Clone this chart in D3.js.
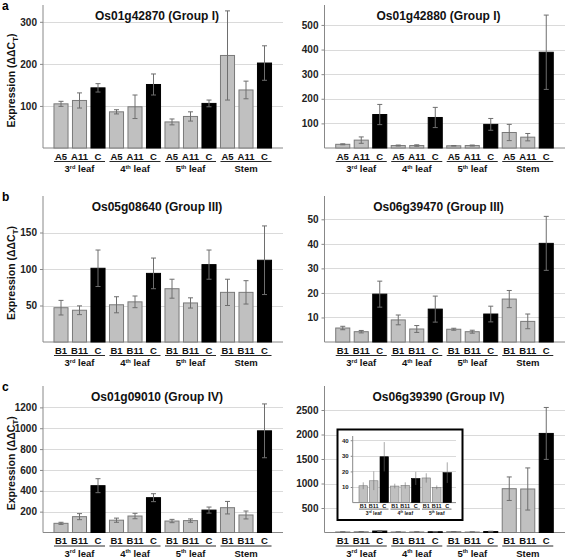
<!DOCTYPE html>
<html><head><meta charset="utf-8">
<script src="https://cdn.jsdelivr.net/npm/d3@7"></script>
<style>body{margin:0;background:#fff}svg{display:block}</style>
</head><body>
<svg id="chart" width="567" height="558"></svg>
<script>
// ---------- data ----------
const tissues = ["3rd leaf", "4th leaf", "5th leaf", "Stem"];
const linesA = ["A5", "A11", "C"];
const linesB = ["B1", "B11", "C"];

const titleA1 = "Os01g42870 (Group I)";
const valA1 = [105, 113, 143, 86, 98, 151, 62, 75, 106, 220, 138, 202];
const errA1 = [6, 18, 10, 5, 28, 25, 7, 11, 8, 106, 21, 41];
const ticksA1 = [100, 200, 300];

const titleA2 = "Os01g42880 (Group I)";
const valA2 = [15, 32, 136, 10, 10, 124, 9, 10, 96, 63, 44, 389];
const errA2 = [2, 13, 41, 2, 3, 41, 1, 2, 24, 33, 15, 151];
const ticksA2 = [100, 200, 300, 400, 500];

const titleB1 = "Os05g08640 (Group III)";
const valB1 = [47, 43.5, 101, 51, 55, 94, 73, 53.5, 106, 68, 68, 112];
const errB1 = [10, 6, 25, 11, 8, 21, 13, 7, 20, 18, 16, 47];
const ticksB1 = [50, 100, 150];

const titleB2 = "Os06g39470 (Group III)";
const valB2 = [5.7, 4.2, 19.5, 9, 5.3, 13.4, 5.2, 4.2, 11.4, 17.5, 8.4, 40.2];
const errB2 = [0.7, 0.5, 5.3, 2, 1.4, 5.3, 0.4, 0.6, 3.2, 3.5, 3, 11];
const ticksB2 = [10, 20, 30, 40, 50];

const titleC1 = "Os01g09010 (Group IV)";
const valC1 = [88, 152, 449, 118, 158, 334, 110, 114, 215, 238, 168, 975];
const errC1 = [10, 29, 67, 20, 26, 38, 16, 16, 29, 60, 38, 258];
const ticksC1 = [200, 400, 600, 800, 1000, 1200];

const titleC2 = "Os06g39390 (Group IV)";
const valC2 = [10.8, 14, 29.4, 10.6, 11, 15.5, 15.8, 9.8, 19.2, 894, 888, 2022];
const errC2 = [2.2, 6, 9.4, 1.5, 2, 4.2, 3, 1.2, 6.6, 240, 430, 530];
const ticksC2 = [500, 1000, 1500, 2000, 2500];

// inset of Os06g39390 (leaves only)
const insetTissues = ["3rd leaf", "4th leaf", "5th leaf"];
const insetVal = valC2.slice(0, 9);
const insetErr = errC2.slice(0, 9);
const insetTicks = [10, 20, 30, 40];

// ---------- drawing ----------
const FONT = "'Liberation Sans', Arial, Helvetica, sans-serif";
const svg = d3.select("#chart");
const GRAY = "#c0c0c0", GRAY_STROKE = "#7a7a7a", ERR = "#6e6e6e";

function tissueLabel(sel, t, fs) {
  const m = t.match(/^(\d)(st|nd|rd|th) (.*)$/);
  if (m) {
    sel.append("tspan").text(m[1]);
    sel.append("tspan").attr("font-size", fs * 0.6).attr("dy", -fs * 0.35).text(m[2]);
    sel.append("tspan").attr("dy", fs * 0.35).text(" " + m[3]);
  } else sel.text(t);
}

function drawPanel(o) {
  const g = svg.append("g");
  const y = d3.scaleLinear().domain([0, o.ymax]).range([o.bottom, o.top]);
  const n = o.values.length;
  const x = d3.scaleBand().domain(d3.range(n))
    .range([o.x0, o.x0 + n * o.step]).paddingInner(o.pad).paddingOuter(o.pad / 2);
  const bw = x.bandwidth();

  // background for inset
  if (o.box) {
    g.append("rect").attr("x", o.box[0]).attr("y", o.box[1])
      .attr("width", o.box[2]).attr("height", o.box[3])
      .attr("fill", "#fff").attr("stroke", "#000").attr("stroke-width", 2);
  }
  // gridlines
  g.append("g").selectAll("line").data(o.ticks).join("line")
    .attr("x1", o.axisX).attr("x2", o.right)
    .attr("y1", d => Math.round(y(d)) + 0.5).attr("y2", d => Math.round(y(d)) + 0.5)
    .attr("stroke", "#dadada").attr("stroke-width", 1);

  // y axis
  const ax = g.append("g").attr("transform", `translate(${o.axisX},0)`)
    .call(d3.axisLeft(y).tickValues(o.ticks).tickSize(o.tick).tickPadding(o.tickPad)
      .tickFormat(d3.format("d")));
  ax.select(".domain").remove();
  ax.selectAll(".tick line").attr("stroke", "#888");
  ax.selectAll("text").attr("font-family", FONT).attr("font-weight", "bold")
    .attr("font-size", o.tickFs).attr("fill", "#222");
  g.append("line").attr("x1", o.axisX).attr("x2", o.axisX)
    .attr("y1", o.top).attr("y2", o.bottom).attr("stroke", "#888");
  g.append("line").attr("x1", o.axisX).attr("x2", o.right)
    .attr("y1", o.bottom).attr("y2", o.bottom).attr("stroke", "#888");

  // bars
  g.append("g").selectAll("rect").data(o.values).join("rect")
    .attr("x", (d, i) => x(i)).attr("width", bw)
    .attr("y", d => y(d)).attr("height", d => o.bottom - y(d))
    .attr("fill", (d, i) => i % 3 === 2 ? "#000" : GRAY)
    .attr("stroke", (d, i) => i % 3 === 2 ? "#000" : GRAY_STROKE)
    .attr("stroke-width", o.barSw);

  // error bars
  const eg = g.append("g").attr("stroke", ERR).attr("stroke-width", o.errSw);
  o.values.forEach((v, i) => {
    const cx = x(i) + bw / 2, e = o.errs[i];
    const y1 = y(v + e), y2 = y(Math.max(0, v - e));
    eg.append("line").attr("x1", cx).attr("x2", cx).attr("y1", y1).attr("y2", y2);
    eg.append("line").attr("x1", cx - o.cap).attr("x2", cx + o.cap).attr("y1", y1).attr("y2", y1);
    eg.append("line").attr("x1", cx - o.cap).attr("x2", cx + o.cap).attr("y1", y2).attr("y2", y2);
  });

  // x labels
  const lg = g.append("g").attr("font-family", FONT).attr("font-weight", "bold")
    .attr("fill", "#111").attr("text-anchor", "middle");
  o.values.forEach((v, i) => {
    lg.append("text").attr("x", x(i) + bw / 2).attr("y", o.bottom + o.lblDy)
      .attr("font-size", o.lblFs).text(o.lines[i % 3]);
  });
  o.tissues.forEach((t, k) => {
    const xa = x(k * 3), xb = x(k * 3 + 2) + bw;
    lg.append("line").attr("x1", xa).attr("x2", xb)
      .attr("y1", o.bottom + o.ulDy).attr("y2", o.bottom + o.ulDy)
      .attr("stroke", "#111").attr("stroke-width", o.ulSw);
    const tx = lg.append("text").attr("x", (xa + xb) / 2).attr("y", o.bottom + o.grpDy)
      .attr("font-size", o.grpFs);
    tissueLabel(tx, t, o.grpFs);
  });

  // title
  if (o.title) {
    g.append("text").attr("x", o.axisX + 114).attr("y", o.top + 15)
      .attr("text-anchor", "middle").attr("font-family", FONT).attr("font-weight", "bold")
      .attr("font-size", 12).attr("fill", "#111").text(o.title);
  }
  return g;
}

const base = { step: 18.5, pad: 0.24, tick: 3, tickPad: 3, tickFs: 10, barSw: 1, errSw: 1, cap: 2.5,
  lblFs: 9.5, lblDy: 11.5, ulDy: 13.5, ulSw: 0.9, grpFs: 9.5, grpDy: 24 };

const rows = [
  { top: 5, bottom: 148, lines: linesA, letter: "a",
    L: { title: titleA1, values: valA1, errs: errA1, ticks: ticksA1, ymax: 340 },
    R: { title: titleA2, values: valA2, errs: errA2, ticks: ticksA2, ymax: 581 } },
  { top: 196, bottom: 342, lines: linesB, letter: "b",
    L: { title: titleB1, values: valB1, errs: errB1, ticks: ticksB1, ymax: 200 },
    R: { title: titleB2, values: valB2, errs: errB2, ticks: ticksB2, ymax: 59.5 } },
  { top: 386, bottom: 532.5, lines: linesB, letter: "c",
    L: { title: titleC1, values: valC1, errs: errC1, ticks: ticksC1, ymax: 1405 },
    R: { title: titleC2, values: valC2, errs: errC2, ticks: ticksC2, ymax: 2990 } }
];

rows.forEach(r => {
  drawPanel(Object.assign({}, base, r.L, { top: r.top, bottom: r.bottom, lines: r.lines, tissues,
    axisX: 43, right: 283, x0: 51.75 }));
  drawPanel(Object.assign({}, base, r.R, { top: r.top, bottom: r.bottom, lines: r.lines, tissues,
    axisX: 324.5, right: 565, x0: 333.5 }));
  svg.append("text").attr("x", 2).attr("y", r.top + 5).attr("font-family", FONT)
    .attr("font-weight", "bold").attr("font-size", 12).attr("fill", "#000").text(r.letter);
  const yl = svg.append("text")
    .attr("transform", `translate(15,${(r.top + r.bottom) / 2 + 4}) rotate(-90)`)
    .attr("text-anchor", "middle").attr("font-family", FONT).attr("font-weight", "bold")
    .attr("font-size", 10.5).attr("fill", "#111");
  yl.append("tspan").text("Expression (\u0394\u0394C");
  yl.append("tspan").attr("font-size", 8).attr("dy", 3).text("T");
  yl.append("tspan").attr("dy", -3).text(")");
});

// inset
drawPanel({ values: insetVal, errs: insetErr, ticks: insetTicks, ymax: 42.7, lines: linesB,
  tissues: insetTissues, top: 436, bottom: 502.6, axisX: 352.7, right: 456, x0: 358,
  step: 10.5, pad: 0.19, tick: 2, tickPad: 2, tickFs: 6, barSw: 0.6, errSw: 0.6, cap: 0,
  lblFs: 5.5, lblDy: 5.5, ulDy: 6.5, ulSw: 0.6, grpFs: 5, grpDy: 12,
  box: [337.5, 429.5, 125, 90.5] });
</script>
</body></html>
